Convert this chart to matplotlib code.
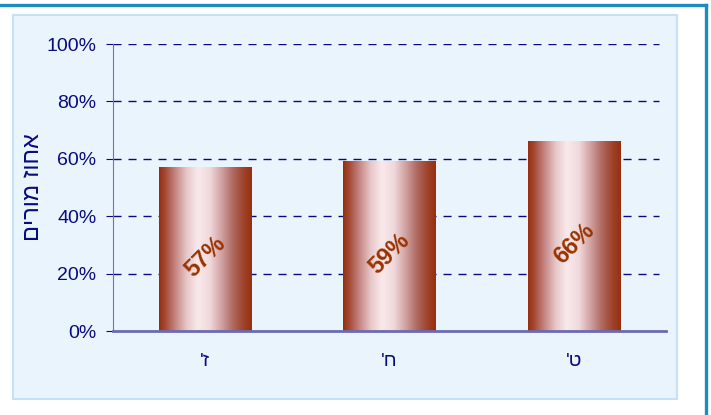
import numpy as np
import matplotlib
matplotlib.use('Agg')
import matplotlib.pyplot as plt
from matplotlib.colors import LinearSegmentedColormap
from matplotlib.patches import Rectangle
from matplotlib.lines import Line2D

plt.rcParams['font.family'] = ['Liberation Sans', 'DejaVu Sans']

# grades (visual order, hebrew drawn right-to-left by hand)
grades = ["'ז", "'ח", "'ט"]
values = [57, 59, 66]
y_ticks = [0, 20, 40, 60, 80, 100]
y_label = 'םירומ זוחא'

NAVY = '#0A0A80'
BROWN = '#993300'

fig = plt.figure(figsize=(7.11, 4.15), dpi=100)

# outer frame: blue line on top and right
fig.add_artist(Line2D([0, 706 / 711], [1 - 5 / 415, 1 - 5 / 415], color='#1A8CC0', lw=2.4,
                      transform=fig.transFigure))
fig.add_artist(Line2D([706 / 711, 706 / 711], [0, 1 - 5 / 415], color='#1A8CC0', lw=2.4,
                      transform=fig.transFigure))
# light blue panel
fig.add_artist(Rectangle((13 / 711, 1 - 399 / 415), 664 / 711, 384 / 415, transform=fig.transFigure,
                         facecolor='#EAF4FD', edgecolor='#C6E0F7', lw=1.5, zorder=0))

ax = fig.add_axes([113 / 711, 1 - 331 / 415, 553 / 711, 287 / 415])
ax.set_facecolor('none')

cmap = LinearSegmentedColormap.from_list('bar', [
    (0.0, '#96300E'), (0.06, '#A24632'), (0.18, '#C78884'), (0.3, '#E8C8CA'),
    (0.42, '#F9E9EB'), (0.55, '#F0D8DB'), (0.66, '#D4A8A9'), (0.8, '#AE685E'),
    (0.92, '#9E4028'), (1.0, '#96300E')])
grad = np.linspace(0, 1, 256).reshape(1, -1)

x = np.arange(len(grades))
w = 0.5
for xi, v in zip(x, values):
    ax.imshow(grad, cmap=cmap, aspect='auto', extent=(xi - w / 2, xi + w / 2, 0, v),
              zorder=3, interpolation='bilinear')
    ax.text(xi, v / 2 - 2.5, '%d%%' % v, rotation=45, ha='center', va='center',
            fontsize=17, fontweight='bold', family='Liberation Sans', color=BROWN, zorder=4)

# gridlines
ax.hlines(y_ticks[1:], -0.5, 2.46, colors=NAVY, lw=1, linestyles=(0, (5.8, 5)), zorder=2)

ax.set_xlim(-0.5, 2.5)
ax.set_ylim(0, 100)
ax.set_yticks(y_ticks)
ax.set_yticklabels(['%d%%' % t for t in y_ticks])
ax.set_xticks(x)
ax.set_xticklabels(grades)

for s in ['top', 'right']:
    ax.spines[s].set_visible(False)
ax.spines['left'].set_color('#7070C0')
ax.spines['bottom'].set_color('#6B6BB0')
ax.spines['bottom'].set_linewidth(2)
ax.spines['bottom'].set_zorder(5)

ax.tick_params(axis='y', colors=NAVY, labelsize=14, length=5, pad=7, direction='out')
ax.tick_params(axis='x', colors=NAVY, labelsize=14, length=0, pad=16)
ax.set_ylabel(y_label, fontsize=17, color=NAVY, labelpad=2)

plt.savefig('out.png', dpi=100)
